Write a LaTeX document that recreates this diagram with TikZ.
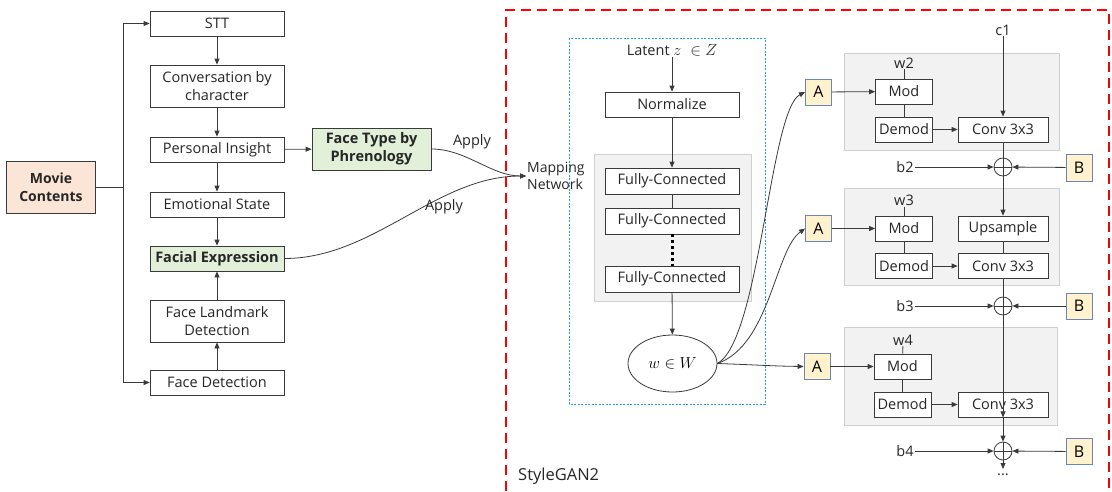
\RequirePackage{fix-cm}
\documentclass[tikz,border=0pt]{standalone}
\usepackage{fontspec}
\setmainfont{Open Sans}
\usetikzlibrary{arrows.meta,shapes.geometric}
\definecolor{linec}{HTML}{3A3A3A}
\definecolor{peach}{HTML}{FBE5D6}
\definecolor{lgreen}{HTML}{E2F0D9}
\definecolor{ayellow}{HTML}{FFF2CC}
\definecolor{aborder}{HTML}{6A86B8}
\definecolor{grayfill}{HTML}{F2F2F2}
\definecolor{grayline}{HTML}{CFCFCF}
\definecolor{redd}{HTML}{FF0000}
\definecolor{blued}{HTML}{2E9BDA}
\tikzset{
  box/.style={draw=linec, fill=white, line width=0.8pt, inner sep=1pt, align=center, text=black!85},
  gbox/.style={box, fill=lgreen, font=\fontsize{14.5}{18}\selectfont\bfseries},
  abox/.style={draw=aborder, fill=ayellow, line width=0.9pt, minimum width=26pt, minimum height=26pt, inner sep=0pt, font=\fontsize{16}{18}\selectfont},
  region/.style={draw=grayline, fill=grayfill, line width=0.8pt},
  arr/.style={draw=linec, line width=0.8pt, -{Triangle[length=6pt,width=5pt]}},
  ln/.style={draw=linec, line width=0.8pt},
  oplus/.style={circle, draw=linec, line width=0.8pt, minimum size=18pt, inner sep=0pt,
    path picture={\draw[linec, line width=0.8pt] (path picture bounding box.north) -- (path picture bounding box.south) (path picture bounding box.west) -- (path picture bounding box.east);}},
  lbl/.style={inner sep=1pt, text=black!85}
}
\begin{document}
\begin{tikzpicture}[x=1pt,y=-1pt, font=\fontsize{14.5}{18}\selectfont]
\useasboundingbox (0,0) rectangle (1112,491);

% ---------- left pipeline ----------
\node[box, fill=peach, minimum width=89pt, minimum height=52pt, font=\fontsize{14}{18}\selectfont\bfseries] (mc) at (51,187.5) {Movie\\Contents};
\node[box, minimum width=134pt, minimum height=25pt] (stt) at (217,23.5) {STT};
\node[box, minimum width=134pt, minimum height=42pt] (cbc) at (217,86) {Conversation by\\character};
\node[box, minimum width=134pt, minimum height=25pt] (pi) at (217,149.5) {Personal Insight};
\node[box, minimum width=134pt, minimum height=25pt] (es) at (217,204.5) {Emotional State};
\node[gbox, minimum width=134pt, minimum height=25pt] (fe) at (217,258.5) {Facial Expression};
\node[box, minimum width=134pt, minimum height=42pt] (fl) at (217,321) {Face Landmark\\Detection};
\node[box, minimum width=134pt, minimum height=25pt] (fd) at (217,382.5) {Face Detection};
\node[gbox, minimum width=119pt, minimum height=42pt] (ft) at (371.5,149) {Face Type by\\Phrenology};

\draw[arr] (mc.east) -- (123,187.5) |- (stt.west);
\draw[arr] (mc.east) -- (123,187.5) |- (fd.west);
\draw[arr] (stt) -- (cbc);
\draw[arr] (cbc) -- (pi);
\draw[arr] (pi) -- (es);
\draw[arr] (es) -- (fe);
\draw[arr] (fd) -- (fl);
\draw[arr] (fl) -- (fe);
\draw[arr] (pi) -- (ft);

% ---------- StyleGAN2 frame ----------
\draw[redd, line width=2pt, dash pattern=on 10pt off 6pt] (506,491) -- (506,10) -- (1109,10) -- (1109,491);
\node[lbl, anchor=west, font=\fontsize{16.5}{19}\selectfont] (sg) at (517,476) {StyleGAN2};

% ---------- mapping network ----------
\draw[blued, line width=0.9pt, dash pattern=on 2pt off 1.5pt] (569,38) rectangle (765,404);
\node[lbl, anchor=west, align=left, font=\fontsize{14}{17}\selectfont] (map) at (526,176) {Mapping\\Network};

\draw[arr] (ft.east) to[out=0, in=180, looseness=0.9] (map.west);
\draw[arr] (fe.east) to[out=0, in=180, looseness=0.9] (map.west);
\node[lbl] (ap1) at (472,142) {Apply};
\node[lbl] (ap2) at (444,207) {Apply};

\node[lbl] (lat) at (672,50) {Latent \fontsize{16}{18}\selectfont$z\;\in Z$};
\node[box, minimum width=134pt, minimum height=25pt] (nor) at (672,104.5) {Normalize};
\draw[region] (594,154) rectangle (751,301);
\node[box, minimum width=134pt, minimum height=26pt] (fc1) at (672,181) {Fully-Connected};
\node[box, minimum width=134pt, minimum height=26pt] (fc2) at (672,221) {Fully-Connected};
\node[box, minimum width=134pt, minimum height=26pt] (fc3) at (672,279) {Fully-Connected};
\node[ellipse, draw=linec, line width=0.8pt, fill=white, minimum width=89pt, minimum height=57pt, font=\fontsize{16}{18}\selectfont] (w) at (672.5,363.5) {$w\in W$};

\draw[arr] (lat) -- (nor);
\draw[arr] (nor) -- (fc1);
\draw[ln] (fc1) -- (fc2);
\draw[black, line width=3pt, dash pattern=on 3pt off 3pt] (fc2.south) -- (fc3.north);
\draw[arr] (fc3) -- (w);

% ---------- synthesis blocks ----------
\draw[region] (844,53) rectangle (1059,150);
\draw[region] (844,188) rectangle (1059,285);
\draw[region] (844,327) rectangle (1057,425);

\node[abox] (a1) at (818.5,92) {A};
\node[abox] (a2) at (818.5,228.5) {A};
\node[abox] (a3) at (817,366.5) {A};

\draw[arr] (w.east) .. controls (760,340) and (770,110) .. (a1.west);
\draw[arr] (w.east) .. controls (770,345) and (775,250) .. (a2.west);
\draw[arr] (w.east) .. controls (760,365) and (770,366) .. (a3.west);

% block 1
\node[lbl] (w2) at (904,63) {w2};
\node[box, minimum width=57pt, minimum height=25pt] (mod1) at (904,91.5) {Mod};
\node[box, minimum width=57pt, minimum height=25pt] (dem1) at (904,129.5) {Demod};
\node[box, minimum width=90pt, minimum height=25pt] (conv1) at (1003,129.5) {Conv 3x3};
\node[lbl] (c1) at (1003,30) {c1};
\node[oplus] (p1) at (1003,167) {};
\node[lbl] (b2) at (905,167) {b2};
\node[abox, minimum height=27pt] (bb1) at (1079,167.5) {B};

\draw[ln] (w2) -- (mod1);
\draw[arr] (a1) -- (mod1);
\draw[ln] (mod1) -- (dem1);
\draw[arr] (dem1) -- (conv1);
\draw[arr] (c1) -- (conv1);
\draw[ln] (conv1) -- (p1);
\draw[arr] (b2) -- (p1);
\draw[arr] (bb1) -- (p1);

% block 2
\node[lbl] (w3) at (904,200) {w3};
\node[box, minimum width=57pt, minimum height=25pt] (mod2) at (904,228.5) {Mod};
\node[box, minimum width=90pt, minimum height=25pt] (ups) at (1003,228.5) {Upsample};
\node[box, minimum width=57pt, minimum height=25pt] (dem2) at (904,266) {Demod};
\node[box, minimum width=90pt, minimum height=25pt] (conv2) at (1003,266) {Conv 3x3};
\node[oplus] (p2) at (1003,306) {};
\node[lbl] (b3) at (905,306) {b3};
\node[abox] (bb2) at (1079,306) {B};

\draw[ln] (w3) -- (mod2);
\draw[arr] (a2) -- (mod2);
\draw[ln] (mod2) -- (dem2);
\draw[arr] (dem2) -- (conv2);
\draw[arr] (p1) -- (ups);
\draw[ln] (ups) -- (conv2);
\draw[ln] (conv2) -- (p2);
\draw[arr] (b3) -- (p2);
\draw[arr] (bb2) -- (p2);

% block 3
\node[lbl] (w4) at (903,340) {w4};
\node[box, minimum width=57pt, minimum height=25pt] (mod3) at (902.5,366.5) {Mod};
\node[box, minimum width=57pt, minimum height=25pt] (dem3) at (902.5,404.5) {Demod};
\node[box, minimum width=90pt, minimum height=25pt] (conv3) at (1003,404.5) {Conv 3x3};
\node[oplus] (p3) at (1003,451) {};
\node[lbl] (b4) at (905,451) {b4};
\node[abox] (bb3) at (1079,451.5) {B};
\coordinate (dend) at (1003,469);
\node[lbl, anchor=north, inner sep=0pt] (dots) at (1003,474) {...};

\draw[ln] (w4) -- (mod3);
\draw[arr] (a3) -- (mod3);
\draw[ln] (mod3) -- (dem3);
\draw[arr] (dem3) -- (conv3);
\draw[arr] (p2) -- (conv3.south);
\draw[arr] (conv3.south) -- (p3);
\draw[arr] (b4) -- (p3);
\draw[arr] (bb3) -- (p3);
\draw[arr] (p3) -- (dend);
\end{tikzpicture}
\end{document}
